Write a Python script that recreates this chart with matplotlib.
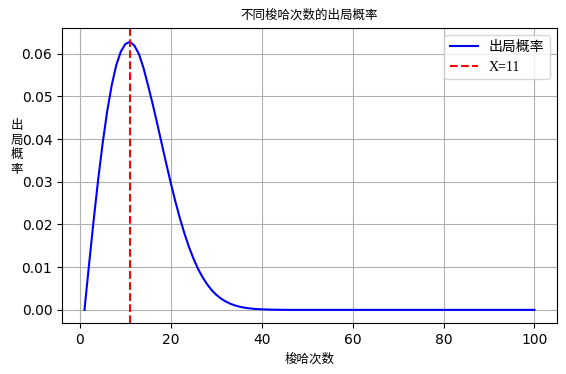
import matplotlib
matplotlib.use("Agg")
import matplotlib.pyplot as plt

plt.rcParams['font.family'] = ['DejaVu Sans', 'Noto Sans CJK SC']
plt.rcParams['axes.unicode_minus'] = False

# number of all-ins (x) and probability of going out (y)
attempts = list(range(1, 101))
prob_head = [
    0.0, 0.01057, 0.02081, 0.03040, 0.03905, 0.04653, 0.05266, 0.05734, 0.06051, 0.06225,
    0.06280, 0.06185, 0.05985, 0.05660, 0.05251, 0.04823, 0.04363, 0.03890, 0.03420, 0.02965,
    0.02537, 0.02143, 0.01786, 0.01470, 0.01195, 0.00959, 0.00761, 0.00596, 0.00461, 0.00353,
    0.00267, 0.00200, 0.00148, 0.00108, 0.00078, 0.00055, 0.00039, 0.00027, 0.00019, 0.00013,
    0.00009, 0.00006, 0.00004, 0.00002, 0.00001,
]
prob = prob_head + [0.0] * (len(attempts) - len(prob_head))
mark_x = 11

title = '不同梭哈次数的出局概率'
xlabel = '梭哈次数'
ylabel = '出局概率'
legend_labels = ['出局概率', f'X={mark_x}']

fig = plt.figure(figsize=(5.66, 3.74), dpi=100)
ax = fig.add_axes([0.1095, 0.1356, 0.8745, 0.7887])

ax.plot(attempts, prob, color='blue', lw=1.5, label=legend_labels[0])
ax.axvline(mark_x, color='red', ls='--', lw=1.5, label=legend_labels[1])

ax.set_title(title, fontsize=9, pad=7)
ax.set_xlabel(xlabel, fontsize=9)
ax.set_ylabel('')
ax.text(-0.092, 0.50, '\n'.join(ylabel), transform=ax.transAxes, fontsize=9,
        rotation=0, ha='center', va='bottom', linespacing=1.15)
ax.grid(True)
ax.set_axisbelow(True)

ax.legend(loc='upper right', prop={'family': ['Liberation Serif', 'Noto Sans CJK SC'], 'size': 10})

fig.savefig('out.png', dpi=100)
